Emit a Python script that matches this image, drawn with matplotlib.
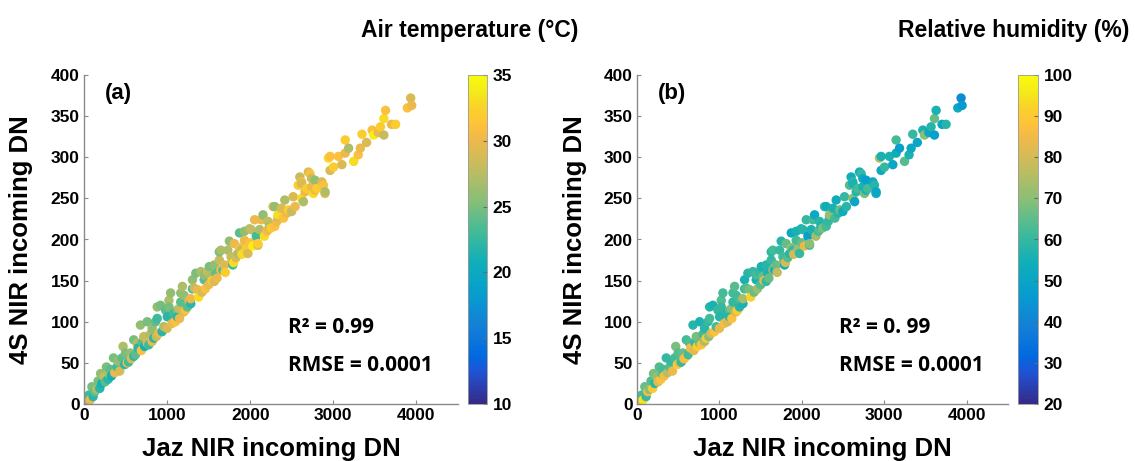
import matplotlib
matplotlib.use("Agg")
import matplotlib.pyplot as plt
import numpy as np
from matplotlib.colors import LinearSegmentedColormap

# Jaz vs 4S NIR incoming digital numbers, with coincident air temperature and humidity
jaz_dn = [
    10, 25, 40, 60, 75, 95, 110, 130, 150, 170, 190, 200, 215, 240, 255, 270, 290, 300, 315, 330,
    355, 370, 396, 410, 430, 457, 470, 490, 500, 520, 537, 557, 570, 598, 600,
    620, 638, 650, 679, 690, 700, 719, 730, 760, 760, 780, 800, 820, 820, 840, 861, 870, 881, 881, 900,
    921, 940, 961, 982, 1000, 1002, 1022, 1022, 1042, 1060, 1080, 1100, 1123, 1123, 1143, 1150, 1164, 1164, 1184, 1200,
    1204, 1220, 1244, 1260, 1285, 1285, 1305, 1305, 1325, 1345, 1366, 1380, 1406, 1420, 1446, 1446, 1460, 1487, 1500, 1507,
    1527, 1540, 1567, 1567, 1588, 1600, 1628, 1628, 1648, 1648, 1669, 1688, 1700, 1730, 1749, 1770, 1770, 1790, 1810, 1800,
    1830, 1851, 1871, 1871, 1891, 1900, 1931, 1931, 1950, 1972, 1992, 2000, 2012, 2030, 2053, 2073, 2093, 2093, 2113, 2133,
    2154, 2170, 2200, 2214, 2214, 2234, 2250, 2275, 2295, 2295, 2320, 2335, 2335, 2376, 2400, 2416, 2440, 2460, 2497, 2517,
    2540, 2578, 2597, 2618, 2618, 2618, 2640, 2659, 2679, 2699, 2719, 2739, 2739, 2760, 2780, 2780, 2800, 2861, 2880, 2900,
    2900, 2941, 2961, 2961, 3002,
    3062, 3103, 3143, 3143, 3184, 3245, 3300, 3325, 3345, 3400, 3467, 3487, 3540, 3567, 3608, 3608, 3628, 3700, 3749, 3891,
    3931, 3943,
]
s4_dn = [
    3, 1, 6, 11, 5, 21, 9, 15, 18, 28, 19, 37, 25, 33, 27, 45, 30, 37, 42, 34,
    56, 38, 45, 52, 40, 56, 70, 48, 62, 50, 51, 62, 55, 78, 58,
    60, 74, 68, 96, 65, 75, 82, 70, 100, 74, 72, 85, 92, 76, 80, 100, 82, 118, 104, 86,
    120, 88, 94, 114, 92, 106, 126, 118, 135, 98, 110, 100, 114, 106, 116, 104, 124, 135, 143, 112,
    132, 114, 118, 126, 122, 128, 151, 140, 141, 159, 139, 130, 161, 136, 151, 157, 140, 161, 145, 167,
    155, 150, 169, 149, 159, 153, 175, 185, 163, 187, 163, 169, 160, 187, 198, 171, 179, 169, 195, 172,
    178, 183, 208, 190, 187, 182, 199, 210, 188, 183, 213, 196, 212, 192, 224, 204, 193, 195, 212, 224,
    230, 204, 210, 222, 212, 216, 214, 240, 216, 240, 222, 228, 230, 238, 226, 248, 232, 236, 234, 252,
    240, 266, 276, 270, 268, 250, 246, 258, 262, 282, 280, 274, 264, 256, 272, 260, 262, 270, 266, 256,
    258, 299, 284, 301, 288,
    301, 291, 321, 305, 311, 295, 303, 311, 328, 318, 333, 327, 330, 337, 347, 327, 357, 340, 340, 360,
    372, 363,
]
air_temp = [
    24, 22, 27, 23, 30, 25, 22, 24, 27, 25, 22, 26, 21, 28, 24, 25, 22, 27, 24, 21,
    25, 30, 23, 26, 29, 24, 27, 22, 25, 31, 23, 26, 29, 25, 22,
    24, 27, 22, 26, 31, 24, 28, 21, 25, 29, 23, 27, 26, 30, 22, 24, 28, 26, 23, 30,
    25, 22, 27, 24, 29, 22, 27, 25, 26, 30, 23, 31, 25, 22, 28, 30, 24, 26, 27, 29,
    26, 31, 24, 28, 22, 30, 26, 23, 28, 25, 30, 33, 27, 29, 24, 26, 31, 28, 30, 25,
    27, 32, 26, 29, 24, 30, 28, 25, 31, 27, 24, 29, 32, 27, 26, 30, 28, 23, 30, 33,
    29, 27, 24, 31, 28, 33, 30, 26, 32, 29, 27, 31, 28, 34, 30, 23, 29, 32, 27, 30,
    26, 33, 31, 28, 30, 27, 32, 29, 31, 26, 30, 28, 33, 29, 31, 27, 30, 32, 28, 29,
    30, 32, 28, 31, 29, 33, 27, 30, 32, 29, 31, 28, 30, 33, 26, 30, 32, 29, 31, 30,
    27, 33, 29, 31, 32,
    31, 29, 32, 30, 27, 33, 31, 30, 32, 29, 31, 34, 30, 32, 33, 28, 31, 30, 32, 31,
    29, 30,
]
rel_hum = [
    88, 92, 80, 62, 95, 66, 60, 85, 70, 64, 90, 68, 58, 72, 82, 64, 88, 66, 62, 86,
    60, 76, 64, 60, 84, 62, 68, 90, 64, 80, 60, 66, 86, 62, 88,
    62, 64, 86, 58, 82, 60, 68, 90, 56, 66, 88, 62, 58, 74, 90, 60, 70, 58, 62, 80,
    56, 88, 62, 60, 84, 58, 64, 60, 62, 86, 58, 80, 64, 58, 70, 88, 60, 62, 64, 82,
    62, 90, 58, 64, 56, 74, 56, 60, 64, 58, 68, 92, 60, 66, 56, 62, 72, 60, 64, 56,
    66, 84, 58, 60, 56, 66, 60, 58, 70, 62, 56, 66, 78, 60, 58, 70, 62, 54, 66, 80,
    64, 58, 52, 70, 60, 80, 62, 56, 72, 60, 56, 66, 58, 84, 60, 48, 62, 70, 56, 62,
    52, 74, 62, 58, 64, 56, 68, 60, 62, 54, 60, 58, 72, 56, 62, 54, 58, 66, 54, 60,
    58, 64, 54, 60, 56, 70, 50, 58, 62, 54, 60, 52, 56, 68, 48, 56, 62, 52, 58, 54,
    50, 76, 52, 56, 60,
    56, 50, 62, 54, 48, 64, 56, 52, 60, 50, 56, 70, 52, 58, 66, 48, 56, 50, 58, 52,
    42, 46,
]

panel_tags = ["(a)", "(b)"]
cbar_titles = ["Air temperature (\u00b0C)", "Relative humidity (%)"]
cbar_limits = [(10, 35), (20, 100)]
cbar_ticks = [[10, 15, 20, 25, 30, 35], [20, 30, 40, 50, 60, 70, 80, 90, 100]]
r2_texts = ["R\u00b2 = 0.99", "R\u00b2 = 0. 99"]
rmse_text = "RMSE = 0.0001"
x_ticks = [0, 1000, 2000, 3000, 4000]
y_ticks = [0, 50, 100, 150, 200, 250, 300, 350, 400]

# parula-like colormap
parula = LinearSegmentedColormap.from_list("parula", [
    (0.000, (0.2081, 0.1663, 0.5292)),
    (0.095, (0.1253, 0.3242, 0.8303)),
    (0.143, (0.0060, 0.4086, 0.8828)),
    (0.238, (0.0779, 0.5040, 0.8384)),
    (0.333, (0.0265, 0.6137, 0.8135)),
    (0.429, (0.0590, 0.6838, 0.7254)),
    (0.524, (0.2586, 0.7317, 0.5954)),
    (0.619, (0.5300, 0.7491, 0.4661)),
    (0.714, (0.7525, 0.7384, 0.3768)),
    (0.810, (0.9450, 0.7261, 0.2886)),
    (0.857, (0.9990, 0.7653, 0.2164)),
    (0.905, (0.9788, 0.8271, 0.1633)),
    (0.952, (0.9598, 0.9218, 0.0948)),
    (1.000, (0.9763, 0.9831, 0.0538)),
])

plt.rcParams['font.family'] = ['Liberation Sans', 'DejaVu Sans']

fig = plt.figure(figsize=(11.35, 4.61), dpi=100)
W, H = 1135.0, 461.0

ax_boxes = [(84, 374), (637, 371)]
cb_boxes = [(468, 19), (1018, 20)]
top_px, bot_px = 75, 404
title_pos = [(470, 30), (1014, 31)]

for i, colour_vals in enumerate([air_temp, rel_hum]):
    left, width = ax_boxes[i]
    ax = fig.add_axes([left / W, 1 - bot_px / H, width / W, (bot_px - top_px) / H])
    vmin, vmax = cbar_limits[i]
    sc = ax.scatter(jaz_dn, s4_dn, c=colour_vals, cmap=parula, vmin=vmin, vmax=vmax,
                    s=46, marker='o', linewidths=0)
    ax.set_xlim(0, 4500)
    ax.set_ylim(0, 400)
    ax.set_xticks(x_ticks)
    ax.set_yticks(y_ticks)
    for side in ['top', 'right']:
        ax.spines[side].set_visible(False)
    for side in ['left', 'bottom']:
        ax.spines[side].set_color('#8a8a8a')
        ax.spines[side].set_linewidth(1.0)
    ax.tick_params(direction='in', length=3, color='#8a8a8a', labelsize=12.5, pad=3)
    for lab in ax.get_xticklabels() + ax.get_yticklabels():
        lab.set_fontweight('bold')

    ax.set_xlabel("Jaz NIR incoming DN", fontsize=18.5, fontweight='bold')
    ax.set_ylabel("4S NIR incoming DN", fontsize=18.5, fontweight='bold')
    ax.xaxis.set_label_coords(0.5, -0.1)
    ax.yaxis.set_label_coords(-0.136, 0.5)

    ax.text(255, 378, panel_tags[i], fontsize=16, fontweight='bold', va='center', ha='left')
    ax.text(2450, 93, r2_texts[i], fontsize=15, fontweight='bold', family='Open Sans',
            va='center', ha='left')
    ax.text(2450, 47, rmse_text, fontsize=15, fontweight='bold', family='Open Sans',
            va='center', ha='left')

    cl, cw = cb_boxes[i]
    cax = fig.add_axes([cl / W, 1 - bot_px / H, cw / W, (bot_px - top_px) / H])
    cb = fig.colorbar(sc, cax=cax, ticks=cbar_ticks[i])
    cb.outline.set_linewidth(0.6)
    cb.outline.set_edgecolor('#9a9a9a')
    cax.tick_params(direction='in', length=3, color='#6a6a6a', labelsize=12.5, pad=4)
    for lab in cax.get_yticklabels():
        lab.set_fontweight('bold')

    tx, ty = title_pos[i]
    fig.text(tx / W, 1 - ty / H, cbar_titles[i], fontsize=16.5, fontweight='bold',
             ha='center', va='center')

fig.savefig("out.png", dpi=100)
